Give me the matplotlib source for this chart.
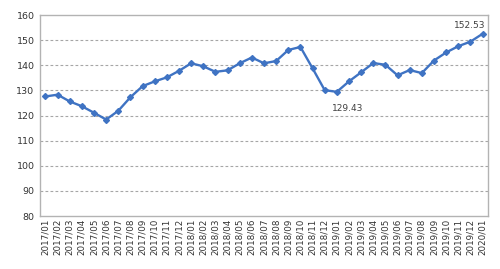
import matplotlib
matplotlib.use("Agg")
import matplotlib.pyplot as plt

months = [f"{y}/{m:02d}" for y in (2017, 2018, 2019) for m in range(1, 13)] + ["2020/01"]
values = [127.6, 128.3, 125.6, 123.7, 121.1, 118.4, 121.9, 127.3, 131.7, 133.6,
          135.2, 137.8, 140.8, 139.6, 137.4, 138.0, 140.8, 143.1, 140.8, 141.7,
          146.1, 147.3, 138.8, 130.1, 129.43, 133.6, 137.2, 140.9, 140.2, 136.0,
          138.1, 136.9, 141.9, 145.1, 147.6, 149.4, 152.53]
yticks = [80, 90, 100, 110, 120, 130, 140, 150, 160]

fig = plt.figure(figsize=(5.0, 2.69), dpi=100)
ax = fig.add_axes([0.08, 0.197, 0.896, 0.747])
x = list(range(len(months)))
ax.plot(x, values, color="#3F73C3", linewidth=1.7, marker="D", markersize=3, zorder=3)
ax.set_xlim(-0.45, len(months) - 0.55)
ax.set_ylim(80, 160)
ax.set_yticks(yticks)
ax.set_xticks(x)
ax.set_xticklabels(months, rotation=90, fontsize=6.3, color="#333333")
ax.tick_params(axis="y", labelsize=6.8, colors="#333333", length=0, pad=4)
ax.tick_params(axis="x", length=0, pad=2)
for yv in yticks[1:-1]:
    ax.axhline(yv, color="#A6A6A6", linestyle=(0, (2.5, 2)), linewidth=0.8, zorder=1)
for s in ax.spines.values():
    s.set_color("#B3B3B3")
    s.set_linewidth(1.0)

i_min = 24
ax.annotate(f"{values[i_min]:.2f}", (x[i_min], values[i_min]), xytext=(7.5, -9),
            textcoords="offset points", ha="center", va="top", fontsize=6.5, color="#404040")
ax.annotate(f"{values[-1]:.2f}", (x[-1], values[-1]), xytext=(-9, 3),
            textcoords="offset points", ha="center", va="bottom", fontsize=6.5, color="#404040")

fig.savefig("out.png", dpi=100, facecolor="white")
